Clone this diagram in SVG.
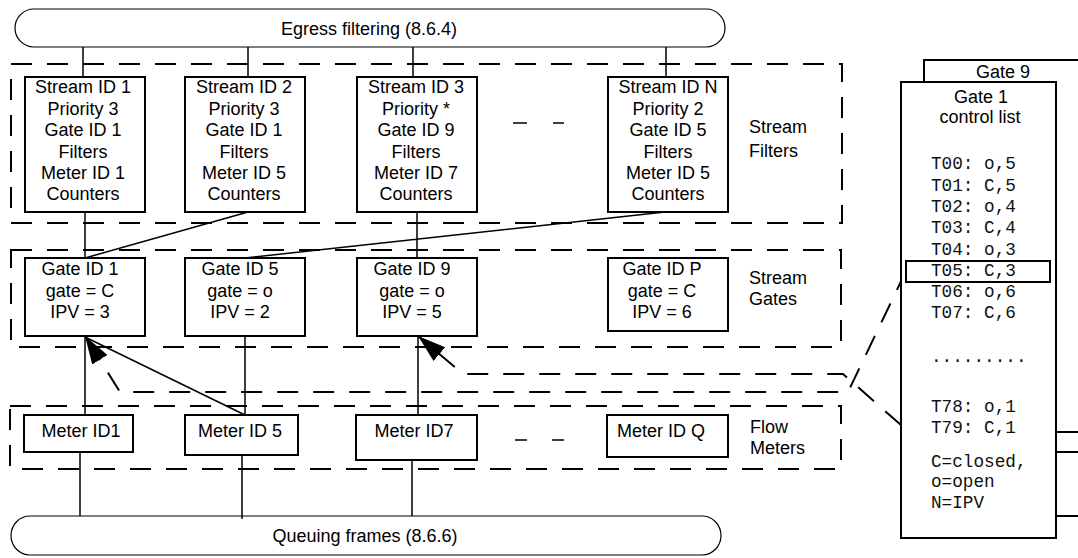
<svg xmlns="http://www.w3.org/2000/svg" width="1078" height="558" viewBox="0 0 1078 558">
<style>
.box{fill:#fff;stroke:#000;stroke-width:2}
.t{font-family:"Liberation Sans",Arial,sans-serif;font-size:18px;fill:#000;text-anchor:middle}
.l{font-family:"Liberation Sans",Arial,sans-serif;font-size:18px;fill:#000}
.m{font-family:"Liberation Mono","Courier New",monospace;font-size:17.7px;fill:#111}
.dash{fill:none;stroke:#000;stroke-width:2;stroke-dasharray:21 15}
.ln{fill:none;stroke:#000;stroke-width:1.5}
.pill{fill:#fff;stroke:#000;stroke-width:1.2}
</style>
<defs>
<marker id="ah" markerUnits="userSpaceOnUse" markerWidth="32" markerHeight="22" refX="28" refY="9" orient="auto">
<path d="M0,0 L28,9 L0,18 Z" fill="#000" stroke="none"/>
</marker>
</defs>

<g id="egress">
<path class="pill" d="M34,9 H706 A19,19 0 0 1 706,47 H34 A19,19 0 0 1 34,9 Z"/>
<text class="t" x="369" y="35">Egress filtering (8.6.4)</text>
</g>

<g id="queuing">
<path class="pill" d="M30,516 H702 A19,19.5 0 0 1 702,555 H30 A19,19.5 0 0 1 30,516 Z"/>
<text class="t" x="365" y="542">Queuing frames (8.6.6)</text>
</g>

<g id="groups">
<rect class="dash" x="11" y="64" width="831" height="159"/>
<rect class="dash" x="11" y="250" width="830" height="97"/>
<rect class="dash" x="10" y="406" width="831" height="63"/>
<text class="l" x="749" y="133">Stream</text>
<text class="l" x="749" y="157">Filters</text>
<text class="l" x="749" y="284">Stream</text>
<text class="l" x="749" y="305">Gates</text>
<text class="l" x="750" y="433">Flow</text>
<text class="l" x="750" y="454">Meters</text>
<path class="ln" d="M513,123 H527 M553,123 H564 M515,440 H527 M552,440 H564" stroke-width="2"/>
</g>

<g id="connectors">
<path class="ln" d="M83,47 V77 M248,47 V77 M413,47 V77 M666,47 V77"/>
<path class="ln" d="M85,212 V258 M248,212 L85,258 M417,212 V258 M665,212 L245,258"/>
<path class="ln" d="M85,336 V415 M245,336 V415 M418,336 V415 M245,415 L85,337"/>
<path class="ln" d="M80,452 V516 M242,455 V519 M412,458 V516"/>
<path class="dash" stroke-width="1.6" d="M906,271 L848,392 H120 L85,336" marker-end="url(#ah)"/>
<path class="dash" stroke-width="1.6" d="M901,425 L843,374 H463 L418,336" marker-end="url(#ah)"/>
</g>

<g id="sf1"><rect class="box" x="25" y="77" width="120" height="135"/>
<text class="t"><tspan x="83" y="93">Stream ID 1</tspan><tspan x="83" y="115">Priority 3</tspan><tspan x="83" y="136">Gate ID 1</tspan><tspan x="83" y="158">Filters</tspan><tspan x="83" y="179">Meter ID 1</tspan><tspan x="83" y="200">Counters</tspan></text></g>
<g id="sf2"><rect class="box" x="185" y="77" width="120" height="135"/>
<text class="t"><tspan x="244" y="93">Stream ID 2</tspan><tspan x="244" y="115">Priority 3</tspan><tspan x="244" y="136">Gate ID 1</tspan><tspan x="244" y="158">Filters</tspan><tspan x="244" y="179">Meter ID 5</tspan><tspan x="244" y="200">Counters</tspan></text></g>
<g id="sf3"><rect class="box" x="357" y="77" width="120" height="135"/>
<text class="t"><tspan x="416" y="93">Stream ID 3</tspan><tspan x="416" y="115">Priority *</tspan><tspan x="416" y="136">Gate ID 9</tspan><tspan x="416" y="158">Filters</tspan><tspan x="416" y="179">Meter ID 7</tspan><tspan x="416" y="200">Counters</tspan></text></g>
<g id="sfN"><rect class="box" x="608" y="77" width="120" height="135"/>
<text class="t"><tspan x="668" y="93">Stream ID N</tspan><tspan x="668" y="115">Priority 2</tspan><tspan x="668" y="136">Gate ID 5</tspan><tspan x="668" y="158">Filters</tspan><tspan x="668" y="179">Meter ID 5</tspan><tspan x="668" y="200">Counters</tspan></text></g>

<g id="g1"><rect class="box" x="25" y="258" width="120" height="78"/>
<text class="t"><tspan x="80" y="275">Gate ID 1</tspan><tspan x="80" y="297">gate = C</tspan><tspan x="80" y="318">IPV = 3</tspan></text></g>
<g id="g5"><rect class="box" x="185" y="258" width="120" height="78"/>
<text class="t"><tspan x="240" y="275">Gate ID 5</tspan><tspan x="240" y="297">gate = o</tspan><tspan x="240" y="318">IPV = 2</tspan></text></g>
<g id="g9"><rect class="box" x="357" y="258" width="120" height="78"/>
<text class="t"><tspan x="412" y="275">Gate ID 9</tspan><tspan x="412" y="297">gate = o</tspan><tspan x="412" y="318">IPV = 5</tspan></text></g>
<g id="gP"><rect class="box" x="608" y="258" width="120" height="73"/>
<text class="t"><tspan x="662" y="275">Gate ID P</tspan><tspan x="662" y="297">gate = C</tspan><tspan x="662" y="318">IPV = 6</tspan></text></g>

<g id="m1"><rect class="box" x="24" y="415" width="109" height="37"/><text class="t" x="81" y="437">Meter ID1</text></g>
<g id="m5"><rect class="box" x="185" y="415" width="113" height="40"/><text class="t" x="240" y="437">Meter ID 5</text></g>
<g id="m7"><rect class="box" x="356" y="415" width="121" height="45"/><text class="t" x="414" y="437">Meter ID7</text></g>
<g id="mQ"><rect class="box" x="607" y="415" width="121" height="42"/><text class="t" x="661" y="437">Meter ID Q</text></g>

<g id="gatelist">
<path fill="none" stroke="#000" stroke-width="2" d="M924,82 V60 H1078 M1056,432 H1078 M1056,452 H1078 M1056,516 H1078"/>
<text class="t" x="1003" y="78">Gate 9</text>
<rect class="box" x="901" y="82" width="155" height="456"/>
<text class="t" x="981" y="103">Gate 1</text>
<text class="t" x="980" y="123">control list</text>
<rect fill="none" stroke="#000" stroke-width="2" x="906" y="261" width="144" height="21"/>
<text class="m"><tspan x="931" y="169">T00: o,5</tspan><tspan x="931" y="191">T01: C,5</tspan><tspan x="931" y="212">T02: o,4</tspan><tspan x="931" y="233">T03: C,4</tspan><tspan x="931" y="255">T04: o,3</tspan><tspan x="931" y="276">T05: C,3</tspan><tspan x="931" y="297">T06: o,6</tspan><tspan x="931" y="318">T07: C,6</tspan><tspan x="931" y="362">.........</tspan><tspan x="931" y="412">T78: o,1</tspan><tspan x="931" y="433">T79: C,1</tspan><tspan x="931" y="467">C=closed,</tspan><tspan x="931" y="487">o=open</tspan><tspan x="931" y="508">N=IPV</tspan></text>
</g>
</svg>
